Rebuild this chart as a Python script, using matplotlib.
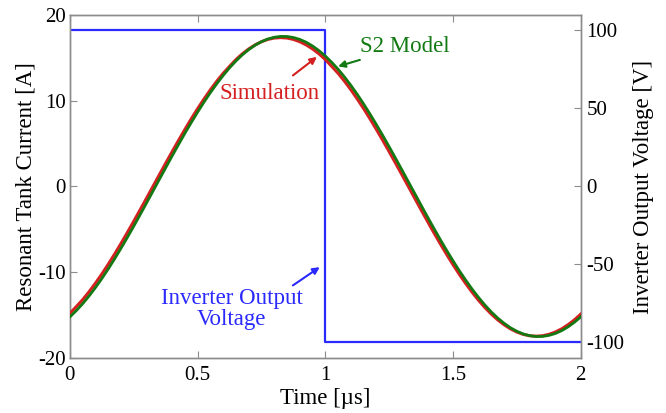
import matplotlib
matplotlib.use("Agg")
import matplotlib.pyplot as plt

plt.rcParams["font.family"] = ["Liberation Serif", "DejaVu Serif"]
plt.rcParams["axes.unicode_minus"] = False

# time axis [us], 0 to 2 in steps of 0.025
TIME = [0.000, 0.025, 0.050, 0.075, 0.100, 0.125, 0.150, 0.175, 0.200, 0.225,
        0.250, 0.275, 0.300, 0.325, 0.350, 0.375, 0.400, 0.425, 0.450, 0.475,
        0.500, 0.525, 0.550, 0.575, 0.600, 0.625, 0.650, 0.675, 0.700, 0.725,
        0.750, 0.775, 0.800, 0.825, 0.850, 0.875, 0.900, 0.925, 0.950, 0.975,
        1.000, 1.025, 1.050, 1.075, 1.100, 1.125, 1.150, 1.175, 1.200, 1.225,
        1.250, 1.275, 1.300, 1.325, 1.350, 1.375, 1.400, 1.425, 1.450, 1.475,
        1.500, 1.525, 1.550, 1.575, 1.600, 1.625, 1.650, 1.675, 1.700, 1.725,
        1.750, 1.775, 1.800, 1.825, 1.850, 1.875, 1.900, 1.925, 1.950, 1.975, 2.000]

# resonant tank current [A]
SIM_CURRENT = [-14.79, -14.00, -13.19, -12.27, -11.27, -10.20, -9.07, -7.88, -6.64, -5.36,
               -4.05, -2.71, -1.36, 0.00, 1.36, 2.71, 4.05, 5.36, 6.64, 7.88,
               9.07, 10.20, 11.27, 12.27, 13.19, 14.00, 14.79, 15.46, 16.03, 16.50,
               16.87, 17.14, 17.30, 17.35, 17.30, 17.14, 16.87, 16.50, 16.03, 15.46,
               14.79, 14.00, 13.19, 12.27, 11.27, 10.20, 9.07, 7.88, 6.64, 5.36,
               4.05, 2.71, 1.36, 0.00, -1.37, -2.73, -4.07, -5.39, -6.68, -7.92,
               -9.12, -10.26, -11.33, -12.34, -13.27, -14.12, -14.88, -15.55, -16.12, -16.60,
               -16.97, -17.24, -17.40, -17.45, -17.40, -17.24, -16.97, -16.60, -16.12, -15.55, -14.88]
S2_CURRENT = [-15.20, -14.47, -13.66, -12.76, -11.78, -10.73, -9.61, -8.43, -7.20, -5.93,
              -4.62, -3.28, -1.92, -0.55, 0.82, 2.19, 3.55, 4.88, 6.19, 7.45,
              8.67, 9.84, 10.94, 11.98, 12.94, 13.83, 14.63, 15.34, 15.95, 16.47,
              16.88, 17.19, 17.39, 17.49, 17.48, 17.36, 17.14, 16.81, 16.37, 15.83,
              15.20, 14.47, 13.66, 12.76, 11.78, 10.73, 9.61, 8.43, 7.20, 5.93,
              4.62, 3.28, 1.92, 0.55, -0.82, -2.19, -3.55, -4.88, -6.19, -7.45,
              -8.67, -9.84, -10.94, -11.98, -12.94, -13.83, -14.63, -15.34, -15.95, -16.47,
              -16.88, -17.19, -17.39, -17.49, -17.48, -17.36, -17.14, -16.81, -16.37, -15.83, -15.20]

# inverter output voltage [V]
V_TIME = [0.0, 1.0, 1.0, 2.0]
V_OUT = [100, 100, -100, -100]

RED = "#d42020"
GREEN = "#137a13"
BLUE = "#2a2aff"
SPINE = "0.55"

fig = plt.figure(figsize=(6.66, 4.13), dpi=100)
ax = fig.add_axes([0.105, 0.133, 0.767, 0.831])
ax2 = ax.twinx()

ax2.plot(V_TIME, V_OUT, color=BLUE, lw=1.6)
ax.plot(TIME, SIM_CURRENT, color=RED, lw=2.2, zorder=3)
ax.plot(TIME, S2_CURRENT, color=GREEN, lw=2.0, zorder=4)

ax.set_zorder(ax2.get_zorder() + 1)
ax.patch.set_visible(False)

ax.set_xlim(0, 2)
ax.set_ylim(-20, 20)
ax2.set_ylim(-110, 110)
ax.set_xticks([0, 0.5, 1, 1.5, 2])
ax.set_xticklabels(["0", "0.5", "1", "1.5", "2"])
ax.set_yticks([-20, -10, 0, 10, 20])
ax2.set_yticks([-100, -50, 0, 50, 100])

ax.tick_params(axis="x", direction="in", top=True, length=5, color=SPINE, labelsize=15, pad=6)
ax.tick_params(axis="y", direction="in", right=False, length=5, color=SPINE, labelsize=15, pad=3)
ax2.tick_params(axis="y", direction="in", length=5, color=SPINE, labelsize=15, pad=4)
for a in (ax, ax2):
    for s in a.spines.values():
        s.set_color(SPINE)
        s.set_linewidth(1.0)

ax.set_xlabel("Time [µs]", fontsize=16.5, labelpad=2)
ax.set_ylabel("Resonant Tank Current [A]", fontsize=16.5, labelpad=1)
ax2.set_ylabel("Inverter Output Voltage [V]", fontsize=16.5, labelpad=6)

ax.annotate("S2 Model", xy=(1.05, 14.0), xytext=(1.135, 16.3), color=GREEN, fontsize=16.5,
            ha="left", va="center",
            arrowprops=dict(arrowstyle="-|>", color=GREEN, lw=1.5, mutation_scale=10, shrinkA=0, shrinkB=0))
ax.annotate("Simulation", xy=(0.967, 15.1), xytext=(0.78, 10.8), color=RED, fontsize=16.5,
            ha="center", va="center",
            arrowprops=dict(arrowstyle="-|>", color=RED, lw=1.5, mutation_scale=10, shrinkA=6, shrinkB=0))
ax.annotate("Inverter Output\nVoltage", xy=(0.978, -9.4), xytext=(0.634, -14.3), color=BLUE,
            fontsize=16.5, ha="center", va="center", linespacing=1.0,
            arrowprops=dict(arrowstyle="-|>", color=BLUE, lw=1.5, mutation_scale=10, shrinkA=0, shrinkB=0,
                            relpos=(0.88, 0.95)))

fig.savefig("out.png", dpi=100)
